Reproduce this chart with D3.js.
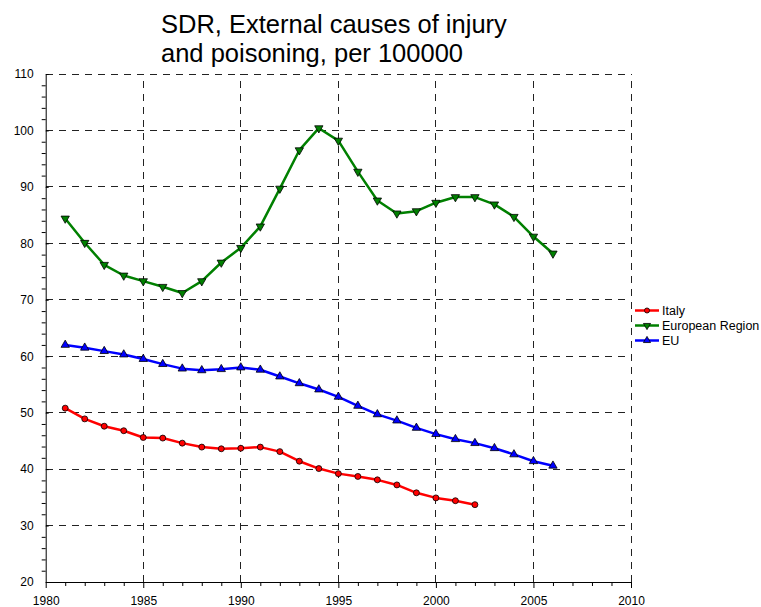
<!DOCTYPE html>
<html>
<head>
<meta charset="utf-8">
<script src="https://cdn.jsdelivr.net/npm/d3@7"></script>
<style>
  body { margin: 0; background: #fff; }
  svg { display: block; }
  svg text { font-family: "Liberation Sans", Arial, sans-serif; }
</style>
</head>
<body>
<svg id="chart" width="761" height="607"></svg>
<script>
// values
const years = d3.range(1981, 2007);

const italy = [50.8, 48.9, 47.6, 46.8, 45.6, 45.5, 44.6, 43.9, 43.6, 43.7,
  43.9, 43.1, 41.4, 40.1, 39.2, 38.7, 38.1, 37.2, 35.8, 34.9, 34.4, 33.7];

const europeanRegion = [84.4, 80.1, 76.2, 74.3, 73.3, 72.3, 71.2, 73.3, 76.6, 79.2,
  83.0, 89.7, 96.5, 100.4, 98.2, 92.7, 87.6, 85.3, 85.7, 87.2,
  88.2, 88.2, 86.9, 84.7, 81.2, 78.2];

const eu = [62.0, 61.5, 60.9, 60.3, 59.5, 58.6, 57.8, 57.5, 57.7, 58.0,
  57.6, 56.4, 55.2, 54.1, 52.8, 51.2, 49.7, 48.6, 47.3, 46.2,
  45.3, 44.6, 43.7, 42.6, 41.4, 40.6];

const xTicks = [1980, 1985, 1990, 1995, 2000, 2005, 2010];
const yTicks = [20, 30, 40, 50, 60, 70, 80, 90, 100, 110];

const titleLines = ["SDR, External causes of injury", "and poisoning, per 100000"];

const series = [
  { name: "Italy", values: italy, color: "#ff0000", marker: "circle" },
  { name: "European Region", values: europeanRegion, color: "#008000", marker: "down" },
  { name: "EU", values: eu, color: "#0000ff", marker: "up" }
];

const svg = d3.select("#chart");

const x = d3.scaleLinear().domain([1980, 2010]).range([45.7, 631]);
const y = d3.scaleLinear().domain([20, 110]).range([582, 74]);

// title
svg.append("g")
  .selectAll("text")
  .data(titleLines)
  .enter()
  .append("text")
  .attr("x", 161)
  .attr("y", (d, i) => 33 + i * 29)
  .style("font-size", "25.5px")
  .style("fill", "#000")
  .text(d => d);

// dashed grid
const grid = svg.append("g")
  .attr("stroke", "#222")
  .attr("stroke-width", 1)
  .attr("stroke-dasharray", "7,6")
  .attr("shape-rendering", "crispEdges");

grid.selectAll("line.h")
  .data(yTicks.slice(1))
  .enter()
  .append("line")
  .attr("class", "h")
  .attr("x1", x(1980)).attr("x2", x(2010))
  .attr("y1", d => y(d)).attr("y2", d => y(d));

grid.selectAll("line.v")
  .data(xTicks.slice(1))
  .enter()
  .append("line")
  .attr("class", "v")
  .attr("y1", y(20)).attr("y2", y(110))
  .attr("x1", d => x(d)).attr("x2", d => x(d));

// y axis: majors every 10, minors every 2
const yAxis = d3.axisLeft(y)
  .tickValues(yTicks)
  .tickSizeInner(10)
  .tickSizeOuter(0)
  .tickPadding(2);

const yMinor = d3.axisLeft(y)
  .tickValues(d3.range(20, 111, 2).filter(v => v % 10 !== 0))
  .tickSize(4)
  .tickFormat("");

svg.append("g")
  .attr("transform", `translate(${x(1980)},0)`)
  .call(yMinor)
  .call(g => g.select(".domain").remove());

svg.append("g")
  .attr("transform", `translate(${x(1980)},0)`)
  .call(yAxis)
  .attr("font-family", null)
  .call(g => g.selectAll("text").style("font-size", "12px").attr("fill", "#000"))
  .call(g => g.selectAll(".tick line").attr("x2", 3))
  .call(g => g.selectAll("path, line").attr("stroke", "#000"));

// x axis: majors every 5, minors every year
const xAxis = d3.axisBottom(x)
  .tickValues(xTicks)
  .tickFormat(d3.format("d"))
  .tickSizeInner(6)
  .tickSizeOuter(0)
  .tickPadding(8);

const xMinor = d3.axisBottom(x)
  .tickValues(d3.range(1980, 2011).filter(v => v % 5 !== 0))
  .tickSize(4)
  .tickFormat("");

svg.append("g")
  .attr("transform", `translate(0,${y(20)})`)
  .call(xMinor)
  .call(g => g.select(".domain").remove());

svg.append("g")
  .attr("transform", `translate(0,${y(20)})`)
  .call(xAxis)
  .attr("font-family", null)
  .call(g => g.selectAll("text").style("font-size", "12px").attr("fill", "#000"))
  .call(g => g.selectAll("path, line").attr("stroke", "#000"));

// lines and markers
const line = d3.line()
  .x((d, i) => x(years[i]))
  .y(d => y(d));

const markerPath = (type, size) =>
  d3.symbol(type === "circle" ? d3.symbolCircle : d3.symbolTriangle, size)();

series.forEach(s => {
  const g = svg.append("g");
  g.append("path")
    .datum(s.values)
    .attr("d", line)
    .attr("fill", "none")
    .attr("stroke", s.color)
    .attr("stroke-width", 2.5)
    .attr("stroke-linejoin", "round");

  g.selectAll("path.m")
    .data(s.values)
    .enter()
    .append("path")
    .attr("class", "m")
    .attr("d", markerPath(s.marker, s.marker === "circle" ? 28 : 30))
    .attr("transform", (d, i) =>
      `translate(${x(years[i])},${y(d)})` + (s.marker === "down" ? " rotate(180)" : ""))
    .attr("fill", s.color)
    .attr("stroke", "#000")
    .attr("stroke-width", 0.8);
});

// legend
const legend = svg.append("g");
series.forEach((s, i) => {
  const ly = 310.5 + i * 15;
  legend.append("line")
    .attr("x1", 635).attr("x2", 659)
    .attr("y1", ly).attr("y2", ly)
    .attr("stroke", s.color)
    .attr("stroke-width", 2.5);
  legend.append("path")
    .attr("d", markerPath(s.marker, s.marker === "circle" ? 20 : 22))
    .attr("transform", `translate(647,${ly})` + (s.marker === "down" ? " rotate(180)" : ""))
    .attr("fill", s.color)
    .attr("stroke", "#000")
    .attr("stroke-width", 0.8);
  legend.append("text")
    .attr("x", 662)
    .attr("y", ly + 4.3)
    .style("font-size", "12.5px")
    .text(s.name);
});
</script>
</body>
</html>
